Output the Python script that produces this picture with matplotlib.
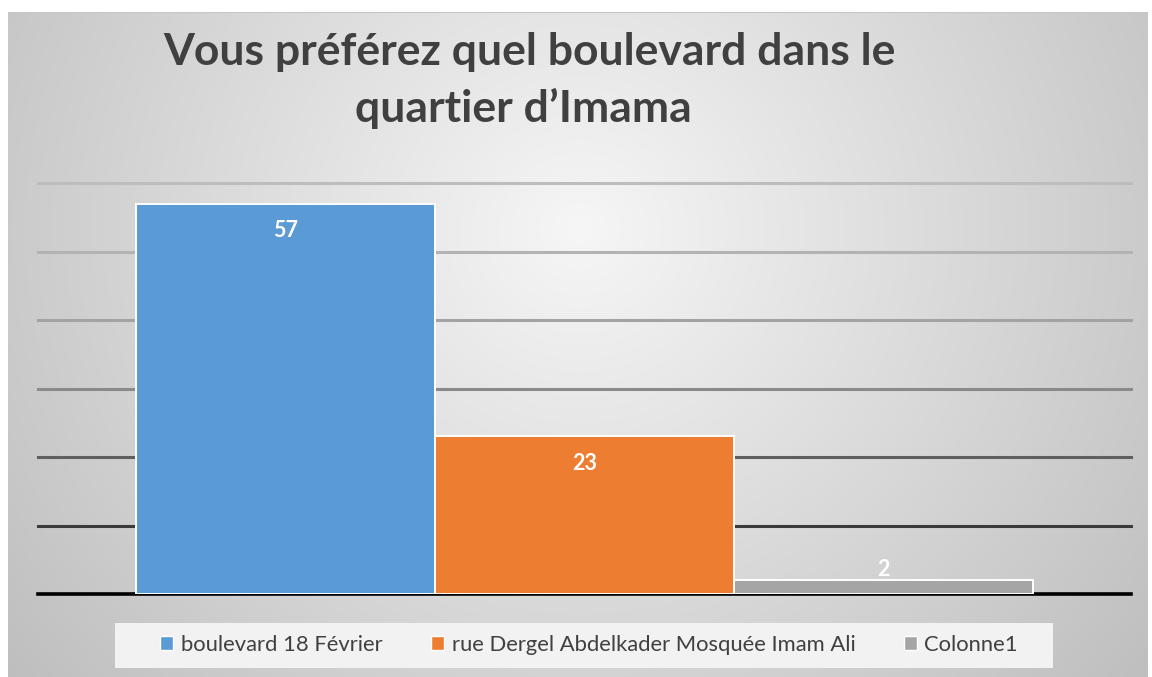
import numpy as np
import matplotlib
matplotlib.use("Agg")
import matplotlib.pyplot as plt
from matplotlib.patches import Patch, Rectangle

# Survey answers
series_names = ["boulevard 18 Février",
                "rue Dergel Abdelkader Mosquée Imam Ali",
                "Colonne1"]
series_values = [57, 23, 2]
series_colors = ["#5b9bd5", "#ed7d31", "#a5a5a5"]
title_lines = ["Vous préférez quel boulevard dans le", "quartier d’Imama"]
grid_values = [0, 10, 20, 30, 40, 50, 60]
grid_colors = ["#000000", "#3a3a3a", "#5f5f5f", "#8a8a8a", "#a3a3a3", "#b3b3b3", "#bdbdbd"]

W, H = 1152, 677
fig = plt.figure(figsize=(W / 100, H / 100), dpi=100)
fig.patch.set_facecolor("white")

def fx(px):
    return px / W

def fy(py):
    return 1 - py / H

# Chart area with radial grey gradient
bg = fig.add_axes([fx(8), 0, fx(1148) - fx(8), fy(12)])
bg.set_axis_off()
gx = np.linspace(8, 1148, 400)
gy = np.linspace(12, 677, 240)
X, Y = np.meshgrid(gx, gy)
d = np.sqrt(((X - 580) / 640) ** 2 + ((Y - 230) / 620) ** 2)
shade = np.clip(0.965 - 0.19 * d, 0.74, 1.0)
bg.imshow(np.dstack([shade, shade, shade]), extent=[0, 1, 0, 1], aspect="auto",
          origin="upper", interpolation="bilinear")
bg.set_xlim(0, 1)
bg.set_ylim(0, 1)
bg.axhline(1, color="#c6c6c6", lw=1.5)

# Plot area
ax = fig.add_axes([fx(38), fy(594), fx(1131) - fx(38), fy(183) - fy(594)])
ax.patch.set_alpha(0)
for s in ax.spines.values():
    s.set_visible(False)
ax.set_xticks([])
ax.set_yticks([])
ax.set_ylim(0, 60)
gap = 98 / 299
ax.set_xlim(-0.5 - gap, len(series_values) - 0.5 + gap)

for v, c in zip(grid_values, grid_colors):
    ax.axhline(v, color=c, lw=2.2 if v else 2.6, zorder=1, clip_on=False)

x = np.arange(len(series_values))
bars = ax.bar(x, series_values, width=1.0, color=series_colors,
              edgecolor="white", linewidth=1.4, zorder=3)

px_per_unit = (594 - 183) / 60
for xi, v in zip(x, series_values):
    if v * px_per_unit > 40:
        off = -27
    else:
        off = 11
    ax.annotate(str(v), (xi, v), xytext=(0, off), textcoords="offset pixels",
                ha="center", va="center", color="white", fontsize=15.5,
                fontweight="bold", family="Lato", zorder=5)

# Title
fig.text(fx(529), fy(52), title_lines[0], ha="center", va="center",
         fontsize=32, fontweight="bold", color="#404040", family="Lato")
fig.text(fx(523), fy(108), title_lines[1], ha="center", va="center",
         fontsize=32, fontweight="bold", color="#404040", family="Lato")

# Legend
fig.patches.append(Rectangle((fx(115), fy(668)), fx(1053) - fx(115), fy(623) - fy(668),
                             transform=fig.transFigure, facecolor="#f2f2f2",
                             edgecolor="none", zorder=1))
handles = [Patch(facecolor=c, edgecolor="white", linewidth=1) for c in series_colors]
leg = fig.legend(handles, series_names, loc="center", bbox_to_anchor=(fx(589), fy(645)),
                 ncol=3, frameon=False, handlelength=0.6,
                 handleheight=0.6, handletextpad=0.35, columnspacing=2.2,
                 prop={"family": "Lato", "size": 15.8})
for t in leg.get_texts():
    t.set_color("#404040")

fig.savefig("out.png", dpi=100, facecolor="white")
